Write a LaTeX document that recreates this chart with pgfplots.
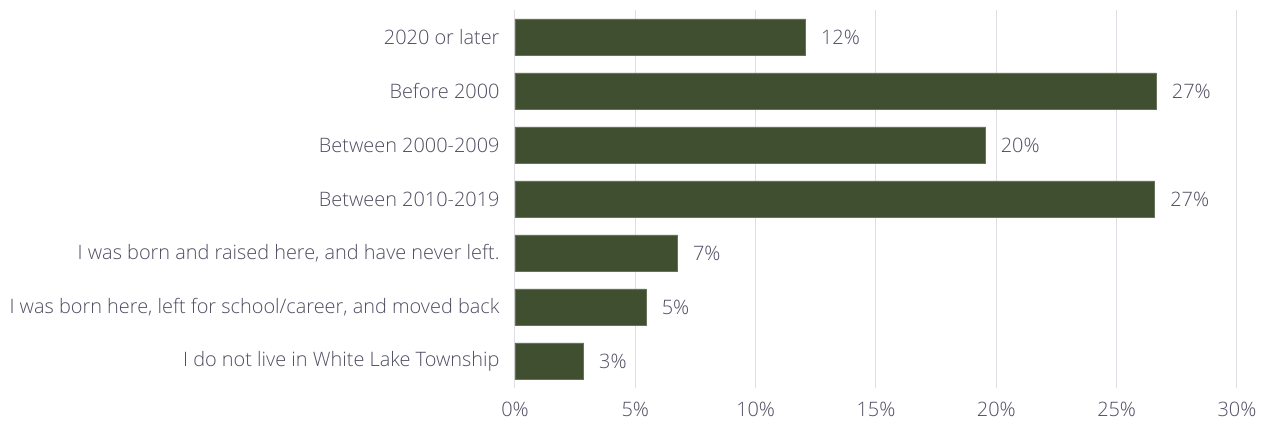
\documentclass[border=0pt]{standalone}
\usepackage{pgfplots}
\pgfplotsset{compat=1.18}
\usepackage{fontspec}
\setmainfont{Open Sans}[UprightFont={* Light}]
\definecolor{barc}{RGB}{65,79,49}
\definecolor{txt}{RGB}{78,78,98}
\definecolor{gridc}{RGB}{222,222,228}
\begin{document}
\begin{tikzpicture}
\useasboundingbox (-515bp,-37bp) rectangle (752bp,388bp);
\begin{axis}[
  at={(0,0)}, anchor=south west,
  scale only axis,
  width=722bp, height=378bp,
  xbar,
  xmin=0, xmax=30,
  ymin=-0.5, ymax=6.5,
  bar width=0.67,
  xtick={0,5,10,15,20,25,30},
  xticklabel={\pgfmathprintnumber{\tick}\%},
  ytick={0,1,2,3,4,5,6},
  yticklabels={I do not live in White Lake Township, {I was born here, left for school/career, and moved back}, {I was born and raised here, and have never left.}, Between 2010-2019, Between 2000-2009, Before 2000, 2020 or later},
  axis line style={draw=none},
  major tick length=0pt,
  xmajorgrids,
  grid style={gridc, line width=1bp},
  tick label style={font=\fontsize{19.9bp}{23bp}\selectfont, text=txt},
  xticklabel style={yshift=-11bp},
  yticklabel style={xshift=-12bp},
  /pgf/number format/assume math mode=true,
  nodes near coords={\pgfmathprintnumber[fixed,precision=0]{\pgfplotspointmeta}\%},
  every node near coord/.append style={font=\fontsize{19.9bp}{23bp}\selectfont, text=txt, xshift=12bp},
  clip=false,
]
\addplot[fill=barc, draw=barc!80!white, line width=0.6bp] coordinates {
(2.85,0) (5.45,1) (6.75,2) (26.58,3) (19.54,4) (26.65,5) (12.07,6)
};
\end{axis}
\end{tikzpicture}
\end{document}
